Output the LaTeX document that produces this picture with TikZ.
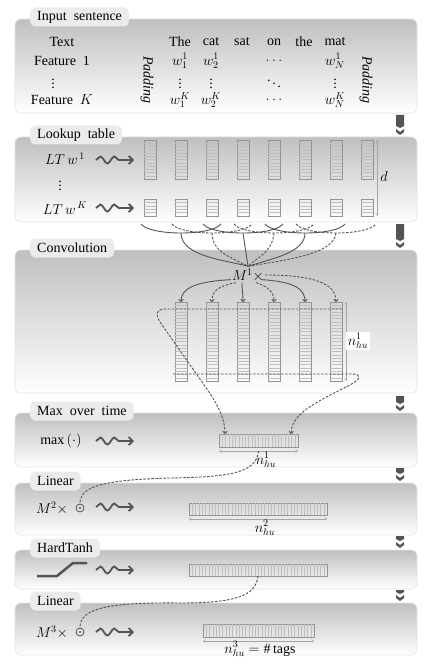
\documentclass[tikz,border=0pt]{standalone}
\usepackage{fontspec}
\setmainfont{Liberation Serif}
\usetikzlibrary{positioning, calc, arrows.meta, decorations.pathmorphing}

\definecolor{ink}{gray}{0.33}
\definecolor{cellgray}{gray}{0.58}

% stripes inside a cell node
\newcommand{\hlines}[2]{\foreach \k in {1,...,#2}{\pgfmathsetmacro\stripepos{\k/(#2+1)}
  \draw[stripe] ($(#1.north west)!\stripepos!(#1.south west)$) -- ($(#1.north east)!\stripepos!(#1.south east)$);}}
\newcommand{\vlines}[2]{\foreach \k in {1,...,#2}{\pgfmathsetmacro\stripepos{\k/(#2+1)}
  \draw[stripe] ($(#1.north west)!\stripepos!(#1.north east)$) -- ($(#1.south west)!\stripepos!(#1.south east)$);}}
% one layer of the network
\newcommand{\layerpanel}[4]{%
  \shade[panel] (15,#1) rectangle (417,#2);
  \node[tab, anchor=west] (#3) at (30,#1-2) {#4};}
% marker between two layers
\newcommand{\stepmark}[2]{%
  \fill[ink] (396,#1) -- (404,#1) -- (404,#2-11) -- (400,#2-9) -- (396,#2-11) -- cycle;
  \fill[ink] (396,#2-8) -- (400,#2-5) -- (404,#2-8) -- (404,#2-5) -- (400,#2-2) -- (396,#2-5) -- cycle;}
\newcommand{\squig}[2]{\coordinate (#1-s) at (96,#2); \coordinate (#1-e) at (134,#2);
  \draw[squiggle] (#1-s) -- (#1-e);}

\begin{document}
\begin{tikzpicture}[x=1pt, y=-1pt, every node/.style={font=\fontsize{14}{16}\selectfont, inner sep=1pt}]
        \tikzstyle{panel}=[rounded corners=6pt, top color=gray!50, bottom color=white, draw=gray!22, line width=0.6pt]
        \tikzstyle{tab}=[rounded corners=5pt, fill=gray!16, inner xsep=7pt, inner ysep=0pt, minimum height=19pt]
        \tikzstyle{cell}=[draw=cellgray, line width=0.6pt, inner sep=0pt, outer sep=0pt, minimum width=12pt]
        \tikzstyle{stripe}=[draw=gray!50, line width=0.3pt]
        \tikzstyle{dim}=[draw=gray!70, line width=0.5pt, {Straight Barb[length=2pt,width=3pt]}-{Straight Barb[length=2pt,width=3pt]}]
        \tikzstyle{link}=[draw=ink, line width=0.9pt]
        \tikzstyle{dlink}=[draw=ink, line width=0.9pt, dash pattern=on 2.5pt off 1.5pt]
        \tikzstyle{arrowed}=[-{To[length=3pt,width=5pt]}]
        \tikzstyle{squiggle}=[draw=ink, line width=1.8pt, decorate, decoration={snake, amplitude=3.5pt, segment length=14pt, post length=9pt}, -{Straight Barb[length=4pt,width=8pt]}]
        \tikzstyle{odot}=[circle, draw=ink, line width=0.8pt, minimum size=8pt, inner sep=0pt]

        \useasboundingbox (0,0) rectangle (426,668);

        % input sentence
        \layerpanel{19}{113}{tab-in}{Input~~sentence}
        \node (txt) at (62,42) {Text};
        \node (f1) at (62,61) {Feature~~1};
        \node (fv) at (53,81) {$\vdots$};
        \node (fk) at (62,100) {Feature~~$K$};
        \node[rotate=-90] (padl) at (147,80) {\textit{Padding}};
        \node[rotate=-90] (padr) at (366,80) {\textit{Padding}};
        \node (the1) at (180,42) {The};
        \node (cat) at (211,42) {cat};
        \node (sat) at (242,42) {sat};
        \node (on) at (274,42) {on};
        \node (the2) at (304,42) {the};
        \node (mat) at (335,42) {mat};
        \node (w11) at (180,61) {$w^1_1$};
        \node (w21) at (211,61) {$w^1_2$};
        \node (h1) at (274,61) {$\ldots$};
        \node (wn1) at (335,61) {$w^1_N$};
        \node (v1) at (180,81) {$\vdots$};
        \node (v2) at (211,81) {$\vdots$};
        \node (dd) at (274,81) {$\ddots$};
        \node (vn) at (335,81) {$\vdots$};
        \node (w1k) at (180,100) {$w^K_1$};
        \node (w2k) at (211,100) {$w^K_2$};
        \node (hk) at (274,100) {$\ldots$};
        \node (wnk) at (335,100) {$w^K_N$};

        % lookup table
        \layerpanel{137}{222}{tab-lt}{Lookup~~table}
        \node (lt1) at (65,159) {$LT\,w^{\,1}$};
        \node (ltv) at (60,183) {$\vdots$};
        \node (ltk) at (65,208) {$LT\,w^{\,K}$};
        \squig{sq1}{160}
        \squig{sq2}{208}
        \foreach \i [evaluate=\i as \x using 119+31*\i] in {1,...,8} {
          \node[cell, minimum height=39pt] (lkt\i) at (\x,159.5) {};
          \hlines{lkt\i}{11}
          \node[cell, minimum height=17pt] (lkb\i) at (\x,207.5) {};
          \hlines{lkb\i}{4}
        }
        \draw[dim] ([xshift=4pt]lkt8.north east) -- ([xshift=4pt]lkb8.south east);
        \node (dlab) at (384,177) {$d$};

        % convolution
        \layerpanel{250}{393}{tab-conv}{Convolution}
        \node (m1) at (248,275) {$M^{1}\times$};
        \coordinate (hub) at ([yshift=1pt]m1.north);
        \foreach \i/\j/\k in {1/2/3, 3/4/5, 5/6/7}
          \draw[link] ([xshift=-9pt,yshift=-8pt]lkb\i.south) .. controls ([yshift=-20pt]lkb\i.south) and ([yshift=-20pt]lkb\k.south) .. ([xshift=9pt,yshift=-8pt]lkb\k.south) coordinate[pos=0.5] (arc\j);
        \foreach \i/\j/\k in {2/3/4, 4/5/6, 6/7/8}
          \draw[dlink] ([xshift=-9pt,yshift=-8pt]lkb\i.south) .. controls ([yshift=-20pt]lkb\i.south) and ([yshift=-20pt]lkb\k.south) .. ([xshift=9pt,yshift=-8pt]lkb\k.south) coordinate[pos=0.5] (arc\j);
        \draw[link] (arc2) .. controls +(0,24) and +(-20,-6) .. (hub);
        \draw[dlink] (arc3) .. controls +(0,20) and +(-14,-8) .. (hub);
        \draw[link] (arc4) -- (hub);
        \draw[dlink] (arc5) .. controls +(-2,20) and +(10,-10) .. (hub);
        \draw[link] (arc6) .. controls +(0,20) and +(24,-8) .. (hub);
        \draw[dlink] (arc7) .. controls +(-2,22) and +(34,-6) .. (hub);
        \foreach \i [evaluate=\i as \x using 150+31*\i] in {1,...,6} {
          \node[cell, minimum height=79pt] (conv\i) at (\x,341.5) {};
          \hlines{conv\i}{23}
        }
        \draw[link, arrowed] ([yshift=3pt]m1.south west) .. controls +(-35,2) and +(0,-14) .. (conv1.north);
        \draw[dlink, arrowed] ([xshift=5pt]m1.south west) .. controls +(-20,4) and +(0,-10) .. (conv2.north);
        \draw[link, arrowed] ([xshift=-6pt]m1.south) .. controls +(0,8) and +(0,-8) .. (conv3.north);
        \draw[dlink, arrowed] ([xshift=8pt]m1.south) .. controls +(12,4) and +(0,-10) .. (conv4.north);
        \draw[link, arrowed] ([xshift=-4pt,yshift=3pt]m1.south east) .. controls +(35,2) and +(0,-12) .. (conv5.north);
        \draw[dlink, arrowed] (m1.east) .. controls +(55,0) and +(0,-16) .. (conv6.north);
        \draw[dim] ([xshift=4pt]conv6.north east) -- ([xshift=4pt]conv6.south east);
        \node[fill=white, inner sep=1.5pt] (nconv) at (358,341) {$n^1_{hu}$};

        % max over time
        \layerpanel{413}{467}{tab-max}{Max~~over~~time}
        \node (maxf) at (61,441) {max\,$(\cdot)$};
        \squig{sq3}{441}
        \node[cell, minimum width=79pt, minimum height=13pt] (maxbox) at (258.5,440.5) {};
        \vlines{maxbox}{23}
        \draw[dim] ([yshift=-4pt]maxbox.south west) -- ([yshift=-4pt]maxbox.south east);
        \node (nmax) at (266,460) {$n^1_{hu}$};
        \draw[dlink, arrowed] ([yshift=-7pt]conv6.north east) -- (166,309) .. controls (156,309) and (155,314) .. (160,322) -- (209,392) .. controls (219,407) and (225,420) .. ([xshift=6pt]maxbox.north west);
        \draw[dlink, arrowed] ([xshift=-2pt,yshift=7pt]conv1.south west) -- (352,374) .. controls (362,374) and (361,379) .. (350,385) .. controls (312,404) and (292,414) .. ([xshift=-7pt]maxbox.north east);

        % linear
        \layerpanel{483}{535}{tab-lin2}{Linear}
        \node (m2) at (52,508) {$M^{2}\times$};
        \node[odot] (dot2) at (80,508) {};
        \fill[ink] (dot2.center) circle (1.1);
        \squig{sq4}{507}
        \node[cell, minimum width=138pt, minimum height=12pt] (linbox) at (258,509) {};
        \vlines{linbox}{41}
        \draw[dim] ([yshift=-4pt]linbox.south west) -- ([yshift=-4pt]linbox.south east);
        \node (nlin) at (265,528) {$n^2_{hu}$};
        \draw[dlink] ([yshift=-4pt]maxbox.south) .. controls +(-2,22) and +(60,-1) .. (170,478) .. controls +(-75,2) and +(0,-15) .. (dot2.north);

        % hardtanh
        \layerpanel{550}{589}{tab-ht}{HardTanh}
        \draw[ink, line width=2.5pt] (37,576) -- (57,576) -- (73,563) -- (87,563);
        \squig{sq5}{570}
        \node[cell, minimum width=138pt, minimum height=12pt] (tanhbox) at (258,570) {};
        \vlines{tanhbox}{41}

        % linear
        \layerpanel{603}{655}{tab-lin3}{Linear}
        \node (m3) at (52,632) {$M^{3}\times$};
        \node[odot] (dot3) at (80,632) {};
        \fill[ink] (dot3.center) circle (1.1);
        \squig{sq6}{632}
        \node[cell, minimum width=111pt, minimum height=13pt] (outbox) at (258.5,630.5) {};
        \vlines{outbox}{33}
        \draw[dim] ([yshift=-4pt]outbox.south west) -- ([yshift=-4pt]outbox.south east);
        \node (nout) at (260,649) {$n^3_{hu}=\#\,$tags};
        \draw[dlink] (tanhbox.south) .. controls +(-2,20) and +(55,0) .. (180,603) .. controls +(-80,-1) and +(0,-17) .. (dot3.north);

        \stepmark{115}{137}
        \stepmark{224}{250}
        \stepmark{396}{413}
        \stepmark{468}{483}
        \stepmark{536}{550}
        \stepmark{590}{603}
      \end{tikzpicture}
\end{document}
